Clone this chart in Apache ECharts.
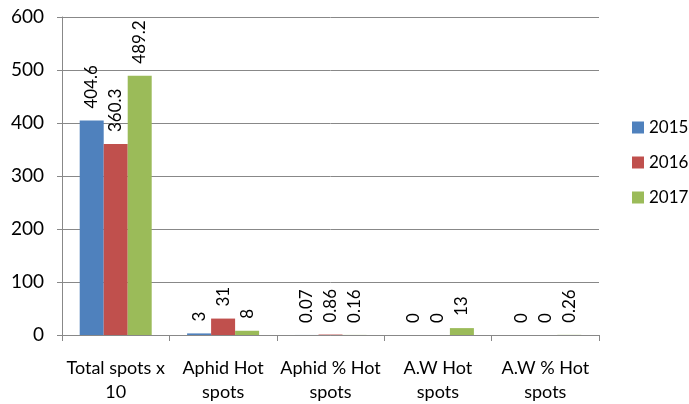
<!DOCTYPE html>
<html><head><meta charset="utf-8">
<script src="https://cdn.jsdelivr.net/npm/echarts@6/dist/echarts.min.js"></script>
<style>html,body{margin:0;padding:0;background:#fff}#c{width:689px;height:404px}</style>
</head><body><div id="c"></div>
<script>
const categories = ['Total spots x\n10', 'Aphid Hot\nspots', 'Aphid % Hot\nspots', 'A.W Hot\nspots', 'A.W % Hot\nspots'];
const years = ['2015', '2016', '2017'];
const v2015 = [404.6, 3, 0.07, 0, 0];
const v2016 = [360.3, 31, 0.86, 0, 0];
const v2017 = [489.2, 8, 0.16, 13, 0.26];
const yTicks = [0, 100, 200, 300, 400, 500, 600];
const colors = ['#4F81BD', '#C0504D', '#9BBB59'];
const FONT = 'Lato';
const chart = echarts.init(document.getElementById('c'));
const mk = (name, data, i) => ({
  name, type: 'bar', data, barWidth: 24, barGap: '0%',
  itemStyle: { color: colors[i] },
  label: { show: true, position: 'top', rotate: 90, align: 'left', verticalAlign: 'middle',
    distance: 12, color: '#000', fontFamily: FONT, fontSize: 17 }
});
chart.setOption({
  animation: false,
  textStyle: { fontFamily: FONT },
  grid: { left: 62, right: 90, top: 17, bottom: 69 },
  legend: { orient: 'vertical', left: 627, top: 114, itemWidth: 12, itemHeight: 12, itemGap: 18,
    itemGap: 18, icon: 'rect', textStyle: { fontFamily: FONT, fontSize: 17, color: '#000' }, data: years },
  xAxis: { type: 'category', data: categories,
    axisLine: { lineStyle: { color: '#888' } },
    axisTick: { show: true, length: 6, lineStyle: { color: '#888' } },
    axisLabel: { color: '#000', fontFamily: FONT, fontSize: 18, lineHeight: 24, margin: 21, interval: 0 } },
  yAxis: { type: 'value', min: yTicks[0], max: yTicks[yTicks.length - 1], interval: 100,
    axisLine: { show: true, lineStyle: { color: '#888' } },
    axisTick: { show: true, length: 5, lineStyle: { color: '#888' } },
    splitLine: { lineStyle: { color: '#888' } },
    axisLabel: { color: '#000', fontFamily: FONT, fontSize: 19, margin: 18 } },
  series: [mk(years[0], v2015, 0), mk(years[1], v2016, 1), mk(years[2], v2017, 2)]
});
</script></body></html>
